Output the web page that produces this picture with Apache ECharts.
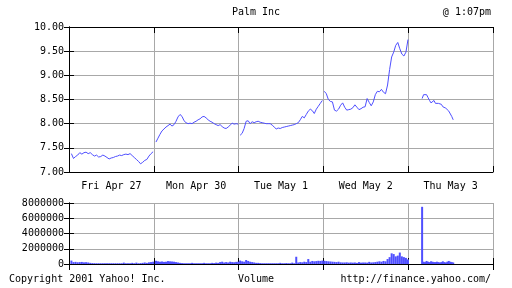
<!DOCTYPE html>
<html><head><meta charset="utf-8">
<script src="https://cdn.jsdelivr.net/npm/echarts@6/dist/echarts.min.js"></script>
<style>html,body{margin:0;padding:0;background:#fff}#c{width:512px;height:288px}</style>
</head><body><div id="c"></div>
<script>
const dayLabels = ['Fri Apr 27', 'Mon Apr 30', 'Tue May 1', 'Wed May 2', 'Thu May 3'];
const yTicks = [7.0, 7.5, 8.0, 8.5, 9.0, 9.5, 10.0];
const volTicks = [0, 2000000, 4000000, 6000000, 8000000];
// first/last sample time of each session, minutes after 9:30
const dayStart = [11, 10, 7, 4, 64];
const dayEnd = [387, 388, 385, 389, 207];
const priceFri = [7.38,7.28,7.32,7.35,7.40,7.37,7.40,7.41,7.38,7.40,7.36,7.33,7.35,7.31,7.32,7.35,7.33,7.30,7.27,7.29,7.30,7.32,7.33,7.35,7.34,7.36,7.37,7.36,7.38,7.34,7.30,7.26,7.22,7.17,7.20,7.24,7.26,7.33,7.38,7.42];
const priceMon = [7.62,7.70,7.78,7.85,7.89,7.93,7.96,7.99,7.95,7.98,8.05,8.14,8.19,8.15,8.06,8.02,8.00,8.01,8.00,8.03,8.05,8.08,8.10,8.14,8.15,8.12,8.08,8.05,8.03,8.00,7.98,7.96,7.98,7.94,7.91,7.90,7.93,7.97,8.01,7.99,8.00,7.99];
const priceTue = [7.76,7.80,7.90,8.05,8.06,8.00,8.04,8.02,8.04,8.05,8.03,8.02,8.01,8.00,8.00,8.00,7.97,7.93,7.89,7.91,7.90,7.92,7.93,7.94,7.95,7.96,7.97,7.98,8.00,8.02,8.08,8.15,8.12,8.19,8.26,8.30,8.27,8.21,8.30,8.36,8.42,8.48];
const priceWed = [8.67,8.62,8.50,8.46,8.45,8.28,8.26,8.30,8.38,8.43,8.34,8.28,8.29,8.30,8.33,8.39,8.34,8.29,8.31,8.34,8.35,8.52,8.44,8.37,8.45,8.60,8.67,8.66,8.71,8.65,8.62,8.80,9.12,9.38,9.48,9.62,9.68,9.55,9.44,9.40,9.48,9.74];
const priceThu = [8.52,8.60,8.63,8.60,8.54,8.48,8.43,8.40,8.48,8.42,8.45,8.42,8.41,8.40,8.35,8.36,8.32,8.31,8.26,8.22,8.15,8.08];
const volFri = [450,250,280,230,250,270,220,240,200,150,120,110,100,100,100,100,100,100,100,100,100,100,100,100,100,180,100,100,100,150,100,180,100,120,150,200,150,220,250,300];
const volMon = [420,350,300,330,280,300,380,350,330,300,250,200,150,120,100,100,100,100,150,100,100,100,100,100,150,100,100,100,150,120,180,150,250,300,200,250,200,300,250,230,280,300];
const volTue = [450,350,300,520,400,300,250,200,150,150,120,100,100,100,100,100,100,100,100,100,150,100,100,120,100,100,180,100,950,200,250,220,300,250,650,300,400,350,380,420,400,450];
const volWed = [420,380,350,330,300,280,250,300,220,200,200,220,180,200,180,200,150,250,180,200,200,180,280,200,220,250,300,350,300,400,350,650,900,1400,1300,1000,1100,1500,1000,900,800,600];
const volThu = [7500,300,250,400,300,250,350,300,250,250,300,250,200,250,350,250,200,300,400,300,250,200];

const prices = [priceFri, priceMon, priceTue, priceWed, priceThu];
const vols = [volFri, volMon, volTue, volWed, volThu];
const SESSION = 390;
function times(d, n) {
  const out = [];
  for (let i = 0; i < n; i++) out.push(d * SESSION + dayStart[d] + i * (dayEnd[d] - dayStart[d]) / (n - 1));
  return out;
}
const FONT = 'DejaVu Sans Mono';
const BLUE = '#4f4fff';
const GRID = '#a8a8a8';
const txt = {fontFamily: FONT, fontSize: 10, color: '#000', fontWeight: 'normal'};

const series = [];
prices.forEach((p, d) => {
  const t = times(d, p.length);
  series.push({type: 'line', xAxisIndex: 0, yAxisIndex: 0, showSymbol: false, symbol: 'none',
    lineStyle: {color: BLUE, width: 1}, data: p.map((v, i) => [t[i], v]), silent: true});
});
const volData = [];
vols.forEach((v, d) => {
  const t = times(d, v.length);
  v.forEach((x, i) => volData.push([t[i], x * 1000]));
});
series.push({type: 'bar', xAxisIndex: 3, yAxisIndex: 2, barWidth: 2, itemStyle: {color: BLUE}, data: volData, silent: true});

function xVal(grid, pos, showLine) {
  return {type: 'value', gridIndex: grid, position: pos, min: 0, max: SESSION * 5, interval: SESSION,
    axisLine: {show: true, lineStyle: {color: '#000', width: 1}},
    axisTick: {show: true, inside: true, length: 6, lineStyle: {color: '#000'}},
    axisLabel: {show: false},
    splitLine: {show: showLine, lineStyle: {color: GRID, width: 1}}};
}
function yVal(grid, pos, min, max, interval, labels, fmt) {
  return {type: 'value', gridIndex: grid, position: pos, min: min, max: max, interval: interval,
    axisLine: {show: true, lineStyle: {color: '#000', width: 1}},
    axisTick: {show: true, inside: true, length: 5, lineStyle: {color: '#000'}},
    axisLabel: Object.assign({show: labels, margin: 5, formatter: fmt}, txt),
    splitLine: {show: labels, lineStyle: {color: GRID, width: 1}}};
}

const chart = echarts.init(document.getElementById('c'), null, {renderer: 'canvas'});
chart.setOption({
  animation: false,
  backgroundColor: '#fff',
  title: [
    {text: 'Palm Inc', left: 'center', top: 2, textStyle: txt},
    {text: '@ 1:07pm', right: 16, top: 2, textStyle: txt},
    {text: 'Copyright 2001 Yahoo! Inc.', left: 4, top: 269, textStyle: txt},
    {text: 'Volume', left: 'center', top: 269, textStyle: txt},
    {text: 'http://finance.yahoo.com/', right: 16, top: 269, textStyle: txt}
  ],
  grid: [
    {left: 69, right: 19, top: 27, height: 145},
    {left: 69, right: 19, top: 203, height: 61}
  ],
  xAxis: [
    xVal(0, 'bottom', true),
    xVal(0, 'top', false),
    {type: 'category', gridIndex: 0, position: 'bottom', data: dayLabels, boundaryGap: true,
      axisLine: {show: false}, axisTick: {show: false}, splitLine: {show: false},
      axisLabel: Object.assign({show: true, margin: 9, interval: 0}, txt)},
    xVal(1, 'bottom', true),
    xVal(1, 'top', false)
  ],
  yAxis: [
    yVal(0, 'left', yTicks[0], yTicks[yTicks.length - 1], 0.5, true, v => v.toFixed(2)),
    yVal(0, 'right', yTicks[0], yTicks[yTicks.length - 1], 0.5, false, null),
    yVal(1, 'left', volTicks[0], volTicks[volTicks.length - 1], 2000000, true, v => String(v)),
    yVal(1, 'right', volTicks[0], volTicks[volTicks.length - 1], 2000000, false, null)
  ],
  series: series
});
</script></body></html>
